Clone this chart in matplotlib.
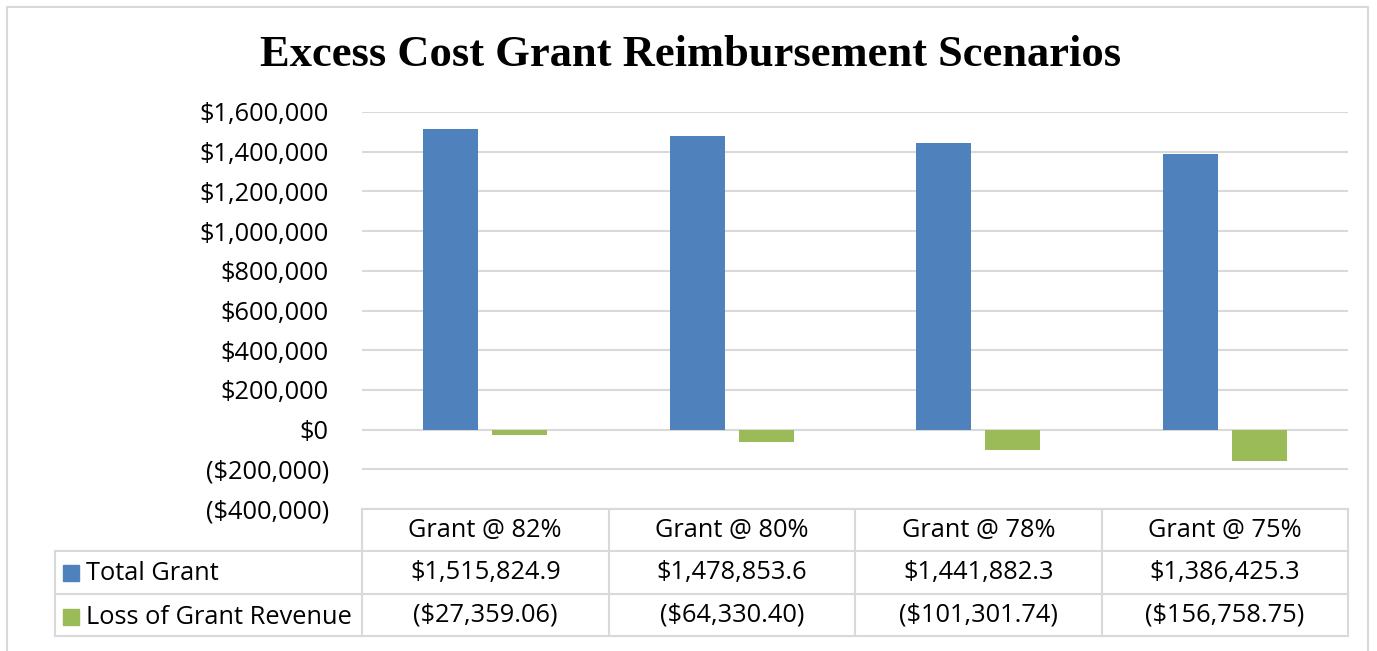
import numpy as np
import matplotlib
matplotlib.use('Agg')
from matplotlib import pyplot as plt
from matplotlib.patches import Rectangle
from matplotlib.ticker import FuncFormatter

categories = ['Grant @ 82%', 'Grant @ 80%', 'Grant @ 78%', 'Grant @ 75%']
total_grant = [1515824.9, 1478853.6, 1441882.3, 1386425.3]
loss_revenue = [-27359.06, -64330.40, -101301.74, -156758.75]
series_names = ['Total Grant', 'Loss of Grant Revenue']
series_colors = ['#4F81BD', '#9BBB59']

W, H = 1377, 651
grid_color = '#D9D9D9'
label_font = ['Open Sans', 'DejaVu Sans']
fs = 18.3

def px(x0, y0, x1, y1):
    # pixel box -> figure fraction [left, bottom, width, height]
    return [x0 / W, 1 - y1 / H, (x1 - x0) / W, (y1 - y0) / H]

def money(v, nd):
    s = '${:,.{}f}'.format(abs(v), nd)
    return '(' + s + ')' if v < 0 else s

fig = plt.figure(figsize=(W / 100, H / 100), dpi=100)

# outer chart border
fig.patches.append(Rectangle((7 / W, -0.02), (1368 - 7) / W, 1 - 7 / H + 0.02,
                             transform=fig.transFigure, fill=False,
                             edgecolor=grid_color, linewidth=1.5))

fig.text(691 / W, 1 - 55 / H, 'Excess Cost Grant Reimbursement Scenarios',
         ha='center', va='center', fontsize=32, fontweight='bold',
         family='Liberation Serif')

# main bar chart
ax = fig.add_axes(px(362, 112, 1348, 509))
x = np.arange(len(categories))
w = 0.225
ax.bar(x - 0.14, total_grant, w, color=series_colors[0], zorder=3)
ax.bar(x + 0.14, loss_revenue, w, color=series_colors[1], zorder=3)
ax.set_xlim(-0.5, 3.5)
ax.set_ylim(-400000, 1600000)
ax.set_yticks(np.arange(-400000, 1600001, 200000))
ax.yaxis.set_major_formatter(FuncFormatter(lambda v, p: money(v, 0)))
ax.yaxis.grid(True, color=grid_color, linewidth=1.5, zorder=0)
ax.set_xticks([])
ax.tick_params(axis='y', length=0, pad=24, labelsize=fs)
for lab in ax.get_yticklabels():
    lab.set_family(label_font)
for s in ax.spines.values():
    s.set_visible(False)

# data table below the plot
left_w = (362 - 55) / ((1348 - 362) / 4)
tab = fig.add_axes(px(55, 509, 1348, 636))
tab.set_xlim(-0.5 - left_w, 3.5)
tab.set_ylim(3, 0)
tab.axis('off')
lk = dict(color=grid_color, linewidth=1.5, clip_on=False)
tab.plot([-0.5, 3.5], [0, 0], **lk)
for yy in [1, 2, 3]:
    tab.plot([-0.5 - left_w, 3.5], [yy, yy], **lk)
tab.plot([-0.5 - left_w] * 2, [1, 3], **lk)
for xx in np.arange(-0.5, 3.6, 1):
    tab.plot([xx, xx], [0, 3], **lk)

for i, c in enumerate(categories):
    tab.text(i, 0.5, c, ha='center', va='center', fontsize=fs, family=label_font)
    tab.text(i, 1.5, money(total_grant[i], 1), ha='center', va='center',
             fontsize=fs, family=label_font)
    tab.text(i, 2.5, money(loss_revenue[i], 2), ha='center', va='center',
             fontsize=fs, family=label_font)

for r, (name, col) in enumerate(zip(series_names, series_colors)):
    fig.patches.append(Rectangle((63 / W, 1 - (565 + r * 44 + 16) / H), 16 / W, 16 / H,
                                 transform=fig.transFigure, color=col))
    fig.text(86 / W, 1 - (573 + r * 44) / H, name, ha='left', va='center',
             fontsize=fs, family=label_font)

plt.savefig('out.png', dpi=100)
